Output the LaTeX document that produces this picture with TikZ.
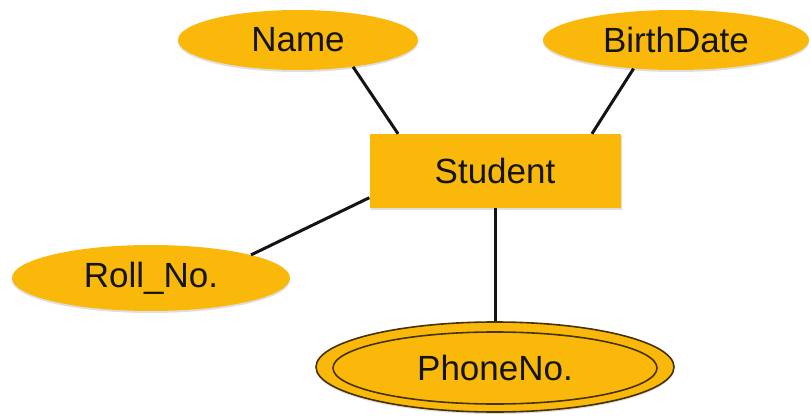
\documentclass[tikz,border=0pt]{standalone}
\usepackage{fontspec}
\setmainfont{Liberation Sans}
\usepackage{tikz}
\usetikzlibrary{
    shapes,
    shapes.geometric,
    shadows
}
\definecolor{erorange}{RGB}{250, 185, 10}
\definecolor{erline}{RGB}{20, 20, 20}
\definecolor{errim}{RGB}{70, 50, 5}

\begin{document}
\begin{tikzpicture}[x=1pt, y=-1pt,
    attrib/.style={ellipse, fill=erorange, inner sep=0pt, text=erline,
        font=\fontsize{35}{42}\selectfont,
        drop shadow={opacity=0.25, shadow xshift=0pt, shadow yshift=-2pt}},
    entity/.style={rectangle, fill=erorange, inner sep=0pt, text=erline,
        font=\fontsize{35}{42}\selectfont,
        drop shadow={opacity=0.25, shadow xshift=1pt, shadow yshift=-2pt}},
    link/.style={erline, line width=3pt}]
            \useasboundingbox (0,0) rectangle (811,417);
            \fill[white] (0,0) rectangle (811,417);
            \clip (0,11) rectangle (811,417);

            \node[attrib, minimum width=240, minimum height=60] (name) at (298, 40) {Name};
            \node[attrib, minimum width=266, minimum height=60] (birth) at (676, 40) {BirthDate};
            \node[attrib, minimum width=278, minimum height=66] (roll) at (151, 278) {Roll\_No.};

            \node[entity, minimum width=251, minimum height=74] (student) at (495, 171) {Student};

            % multivalued attribute
            \node[attrib, draw=errim, line width=1.6pt, minimum width=358, minimum height=90] (phone) at (495, 367) {};
            \node[ellipse, draw=errim, line width=1.6pt, inner sep=0pt, text=erline,
                  font=\fontsize{35}{42}\selectfont, minimum width=324, minimum height=72] (phoneIn) at (495, 368) {PhoneNo.};

            \draw[link] (name.-26)--(student.159);
            \draw[link] (birth.-146)--(student.21);
            \draw[link] (roll.13)--(student.192);
            \draw[link] (student.south)--(phone.north);
\end{tikzpicture}
\end{document}
